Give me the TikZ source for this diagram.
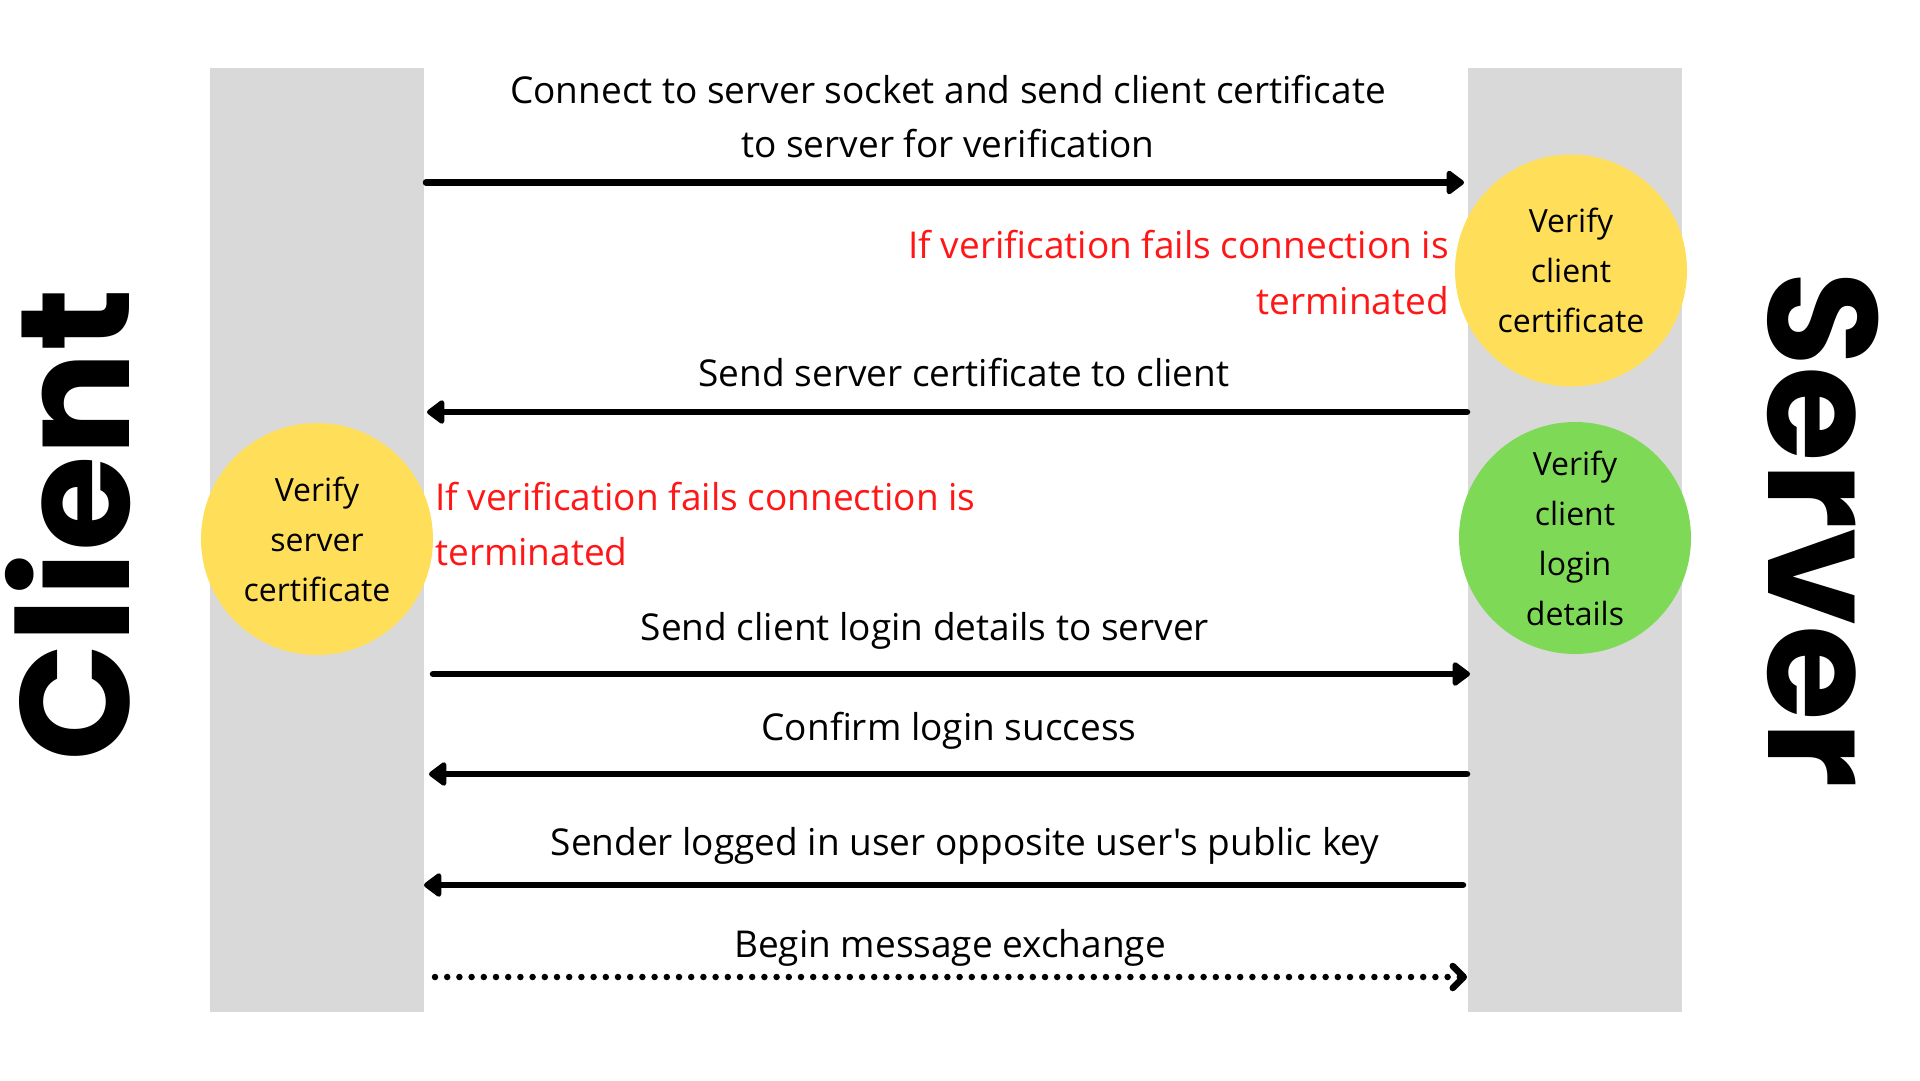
\documentclass[tikz,border=0pt]{standalone}
\usepackage{fontspec}
\setmainfont{Open Sans}
\newfontfamily\bodyfont{Open Sans}
\newfontfamily\heavyfont{Poppins}
\usetikzlibrary{arrows.meta}
\definecolor{lanegray}{HTML}{D9D9D9}
\definecolor{circyellow}{HTML}{FFDE59}
\definecolor{circgreen}{HTML}{7ED957}
\definecolor{warnred}{HTML}{FF1616}
\begin{document}
\begin{tikzpicture}[x=1pt,y=-1pt,
  lane/.style={fill=lanegray, draw=none, rectangle, inner sep=0pt, minimum width=214pt, minimum height=944pt, anchor=north west},
  stepcircle/.style={circle, draw=none, inner sep=0pt, minimum size=232pt, align=center, font=\bodyfont\fontsize{32}{50}\selectfont},
  msgtext/.style={inner sep=0pt, anchor=base, font=\bodyfont\fontsize{37}{44}\selectfont},
  warntext/.style={inner sep=0pt, font=\bodyfont\fontsize{37}{44}\selectfont, text=warnred},
  sidelabel/.style={inner sep=0pt, anchor=base, font=\heavyfont\bfseries\fontsize{155}{155}\selectfont},
  msg/.style={line width=6.5pt, line cap=round, -{Triangle[length=19pt,width=27pt,round]}},
  dotmsg/.style={line width=6.5pt, line cap=round, dash pattern=on 0pt off 12.2pt, -{Straight Barb[length=11pt,width=22pt,round]}}
]
\useasboundingbox (0,0) rectangle (1920,1080);
\fill[white] (0,0) rectangle (1920,1080);

% lanes
\node[lane] (clientlane) at (210,68) {};
\node[lane] (serverlane) at (1468,68) {};

% side labels
\node[sidelabel, rotate=90] (clientlabel) at (129,525) {Client};
\node[sidelabel, rotate=-90] (serverlabel) at (1768,529.5) {Server};

% circles
\node[stepcircle, fill=circyellow] (verclientcert) at (1571,270.5) {Verify\\client\\certificate};
\node[stepcircle, fill=circyellow] (verservercert) at (317,539) {Verify\\server\\certificate};
\node[stepcircle, fill=circgreen] (verlogin) at (1575,538) {Verify\\client\\login\\details};

% message texts
\node[msgtext] (t1a) at (948,103) {Connect to server socket and send client certificate};
\node[msgtext] (t1b) at (948,157) {to server for verification};
\node[msgtext] (t2) at (964,386) {Send server certificate to client};
\node[msgtext] (t3) at (925,640) {Send client login details to server};
\node[msgtext] (t4) at (949,740) {Confirm login success};
\node[msgtext] (t5) at (965,855) {Sender logged in user opposite user's public key};
\node[msgtext] (t6) at (950,957) {Begin message exchange};

% warnings
\node[warntext, anchor=base east] (w1a) at (1449,258) {If verification fails connection is};
\node[warntext, anchor=base east] (w1b) at (1449,314) {terminated};
\node[warntext, anchor=base west] (w2a) at (435,510) {If verification fails connection is};
\node[warntext, anchor=base west] (w2b) at (435,565) {terminated};

% connector endpoints
\coordinate (a1s) at (426,182.5);  \coordinate (a1e) at (1464,182.5);
\coordinate (a2s) at (1467,412);   \coordinate (a2e) at (427,412);
\coordinate (a3s) at (433,674);    \coordinate (a3e) at (1470,674);
\coordinate (a4s) at (1467,774);   \coordinate (a4e) at (429,774);
\coordinate (a5s) at (1463,885);   \coordinate (a5e) at (424,885);
\coordinate (a6s) at (435,977);    \coordinate (a6e) at (1467,977);

\draw[msg] (a1s) -- (a1e);
\draw[msg] (a2s) -- (a2e);
\draw[msg] (a3s) -- (a3e);
\draw[msg] (a4s) -- (a4e);
\draw[msg] (a5s) -- (a5e);
\draw[dotmsg] (a6s) -- (a6e);
\end{tikzpicture}
\end{document}
